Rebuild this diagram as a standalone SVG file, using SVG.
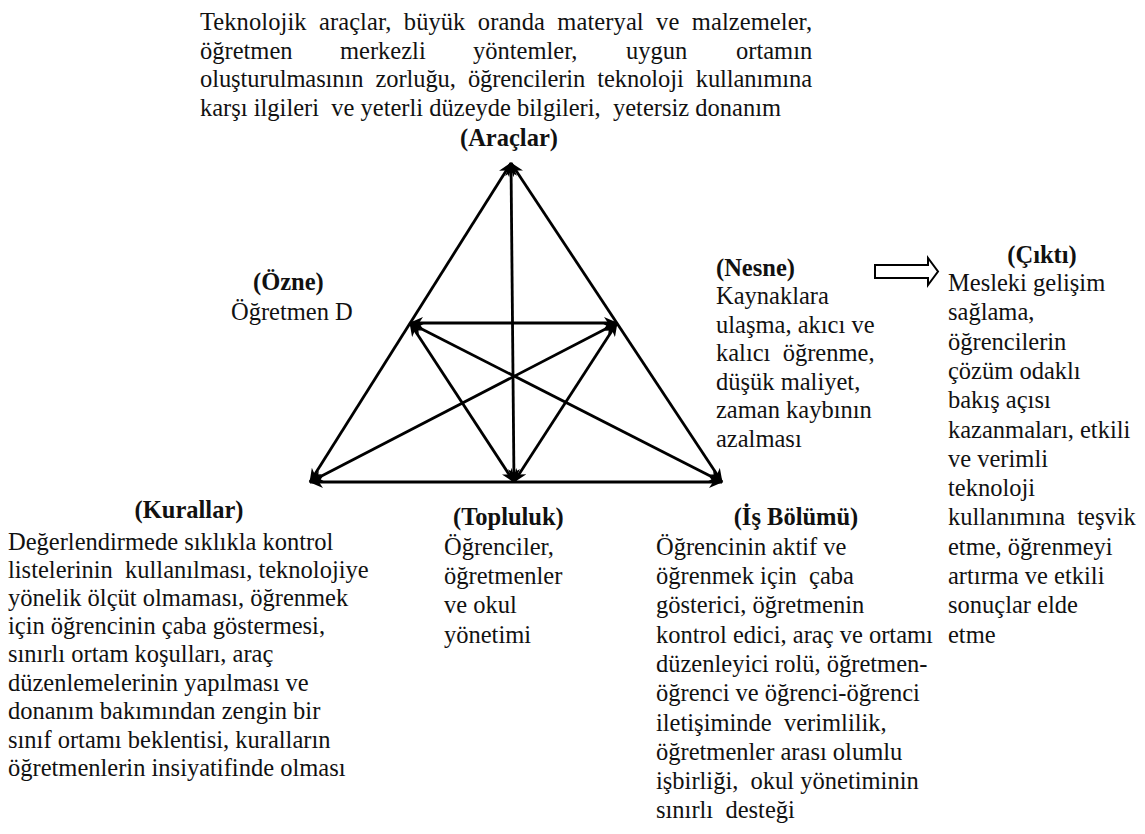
<svg xmlns="http://www.w3.org/2000/svg" width="1145" height="834" viewBox="0 0 1145 834">
<style>
text{font-family:"Liberation Serif","Times New Roman",serif;font-size:24.5px;fill:#111;white-space:pre}
.b{font-weight:bold}
.c{text-anchor:middle}
.ln{stroke:#000;stroke-width:2.8;fill:none;marker-start:url(#ah);marker-end:url(#ah)}
</style>
<defs>
<marker id="ah" viewBox="0 0 14 12" refX="13" refY="6" markerWidth="14" markerHeight="12" markerUnits="userSpaceOnUse" orient="auto-start-reverse">
<path d="M0,0 L14,6 L0,12 L4,6 z" fill="#000"/>
</marker>
</defs>
<rect width="1145" height="834" fill="#fff"/>
<g id="connectors">
<line class="ln" x1="511" y1="163" x2="310" y2="482"/>
<line class="ln" x1="511" y1="163" x2="722" y2="482"/>
<line class="ln" x1="310" y1="482" x2="722" y2="482"/>
<line class="ln" x1="511" y1="163" x2="514" y2="482"/>
<line class="ln" x1="410" y1="323" x2="617" y2="323"/>
<line class="ln" x1="410" y1="323" x2="722" y2="482"/>
<line class="ln" x1="617" y1="323" x2="310" y2="482"/>
<line class="ln" x1="410" y1="323" x2="514" y2="482"/>
<line class="ln" x1="617" y1="323" x2="514" y2="482"/>
<polygon points="875,265 928,265 928,258 938,271.5 928,285 928,278 875,278" fill="#fff" stroke="#000" stroke-width="2"/>
</g>
<g id="araclar">
<text x="200" y="30" textLength="612" lengthAdjust="spacing">Teknolojik  araçlar,  büyük  oranda  materyal  ve  malzemeler,</text>
<text y="58.5"><tspan x="200">öğretmen</tspan><tspan x="340">merkezli</tspan><tspan x="473">yöntemler,</tspan><tspan x="626">uygun</tspan><tspan x="736">ortamın</tspan></text>
<text x="200" y="87" textLength="612" lengthAdjust="spacing">oluşturulmasının  zorluğu,  öğrencilerin  teknoloji  kullanımına</text>
<text x="200" y="115.5">karşı ilgileri  ve yeterli düzeyde bilgileri,  yetersiz donanım</text>
<text class="b c" x="509" y="146">(Araçlar)</text>
</g>
<g id="ozne">
<text class="b" x="253" y="290">(Özne)</text>
<text x="231" y="320">Öğretmen D</text>
</g>
<g id="nesne">
<text class="b" x="716" y="276">(Nesne)</text>
<text x="716" y="304">Kaynaklara</text>
<text x="716" y="333">ulaşma, akıcı ve</text>
<text x="716" y="361">kalıcı  öğrenme,</text>
<text x="716" y="390">düşük maliyet,</text>
<text x="716" y="418">zaman kaybının</text>
<text x="716" y="447">azalması</text>
</g>
<g id="cikti">
<text class="b c" x="1042" y="263">(Çıktı)</text>
<text x="948" y="291">Mesleki gelişim</text>
<text x="948" y="320.3">sağlama,</text>
<text x="948" y="349.6">öğrencilerin</text>
<text x="948" y="378.9">çözüm odaklı</text>
<text x="948" y="408.2">bakış açısı</text>
<text x="948" y="437.5">kazanmaları, etkili</text>
<text x="948" y="466.8">ve verimli</text>
<text x="948" y="496.1">teknoloji</text>
<text x="948" y="525.4">kullanımına  teşvik</text>
<text x="948" y="554.7">etme, öğrenmeyi</text>
<text x="948" y="584">artırma ve etkili</text>
<text x="948" y="613.3">sonuçlar elde</text>
<text x="948" y="642.6">etme</text>
</g>
<g id="kurallar">
<text class="b c" x="189" y="518">(Kurallar)</text>
<text x="8" y="550">Değerlendirmede sıklıkla kontrol</text>
<text x="8" y="578">listelerinin  kullanılması, teknolojiye</text>
<text x="8" y="606">yönelik ölçüt olmaması, öğrenmek</text>
<text x="8" y="634">için öğrencinin çaba göstermesi,</text>
<text x="8" y="662">sınırlı ortam koşulları, araç</text>
<text x="8" y="691">düzenlemelerinin yapılması ve</text>
<text x="8" y="719">donanım bakımından zengin bir</text>
<text x="8" y="748">sınıf ortamı beklentisi, kuralların</text>
<text x="8" y="776">öğretmenlerin insiyatifinde olması</text>
</g>
<g id="topluluk">
<text class="b" x="453" y="525.4">(Topluluk)</text>
<text x="444" y="554.7">Öğrenciler,</text>
<text x="444" y="584">öğretmenler</text>
<text x="444" y="613.3">ve okul</text>
<text x="444" y="642.6">yönetimi</text>
</g>
<g id="isbolumu">
<text class="b c" x="796" y="525.4">(İş Bölümü)</text>
<text x="656" y="554.7">Öğrencinin aktif ve</text>
<text x="656" y="584">öğrenmek için  çaba</text>
<text x="656" y="613.3">gösterici, öğretmenin</text>
<text x="656" y="642.6">kontrol edici, araç ve ortamı</text>
<text x="656" y="671.9">düzenleyici rolü, öğretmen-</text>
<text x="656" y="701.2">öğrenci ve öğrenci-öğrenci</text>
<text x="656" y="730.5">iletişiminde  verimlilik,</text>
<text x="656" y="759.8">öğretmenler arası olumlu</text>
<text x="656" y="789.1">işbirliği,  okul yönetiminin</text>
<text x="656" y="818.4">sınırlı  desteği</text>
</g>
</svg>
